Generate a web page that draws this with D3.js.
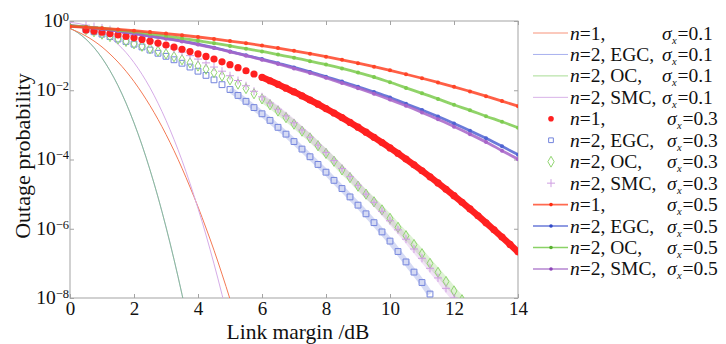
<!DOCTYPE html>
<html>
<head>
<meta charset="utf-8">
<script src="https://d3js.org/d3.v7.min.js"></script>
<style>
  body { margin: 0; background: #fff; }
  svg { display: block; font-family: "Liberation Serif", "Times New Roman", serif; }
</style>
</head>
<body>
<svg id="chart" width="726" height="344"></svg>
<script>
// ---- data ----
const xTicks = [0, 2, 4, 6, 8, 10, 12, 14];
const yTicks = [1, 1e-2, 1e-4, 1e-6, 1e-8];
const yTickExp = ['0', '\u22122', '\u22124', '\u22126', '\u22128'];

// link margin grids (dB)
const margin01 = [0, 0.25, 0.5, 0.75, 1, 1.25, 1.5, 1.75, 2, 2.25, 2.5, 2.75, 3, 3.25, 3.5, 3.75, 4, 4.25, 4.5, 4.75, 5, 5.25];
const margin03 = [0.5, 0.75, 1, 1.25, 1.5, 1.75, 2, 2.25, 2.5, 2.75, 3, 3.25, 3.5, 3.75, 4, 4.25, 4.5, 4.75,
  5, 5.25, 5.5, 5.75, 6, 6.25, 6.5, 6.75, 7, 7.25, 7.5, 7.75, 8, 8.25, 8.5, 8.75, 9, 9.25, 9.5, 9.75,
  10, 10.25, 10.5, 10.75, 11, 11.25, 11.5, 11.75, 12, 12.25, 12.5, 12.75, 13, 13.25, 13.5, 13.75, 14];
const margin05 = [0, 0.5, 1, 1.5, 2, 2.5, 3, 3.5, 4, 4.5, 5, 5.5, 6, 6.5, 7, 7.5, 8, 8.5, 9, 9.5,
  10, 10.5, 11, 11.5, 12, 12.5, 13, 13.5, 14];

// sigma_x = 0.1 (thin lines)
const n1S01 = [0.599, 0.482, 0.368, 0.264, 0.178, 0.111, 0.0652, 0.0355, 0.0179, 0.00833, 0.0036, 0.00144,
  5.3e-4, 1.8e-4, 5.6e-5, 1.6e-5, 4.3e-6, 1.05e-6, 2.4e-7, 4.9e-8, 9.3e-9, 1.6e-9];
const egcS01 = [0.622, 0.456, 0.298, 0.171, 0.0853, 0.0367, 0.0136, 0.00427, 0.00114, 2.6e-4, 5.0e-5, 8.2e-6,
  1.12e-6, 1.3e-7, 1.27e-8, 1.05e-9];
const ocS01 = [0.622, 0.456, 0.298, 0.171, 0.0853, 0.0367, 0.0136, 0.00427, 0.00114, 2.6e-4, 5.0e-5, 8.2e-6,
  1.12e-6, 1.3e-7, 1.27e-8, 1.05e-9];
const smcS01 = [0.921, 0.851, 0.750, 0.621, 0.476, 0.335, 0.213, 0.123, 0.063, 0.0289, 0.0118, 0.00424,
  0.00135, 3.8e-4, 9.4e-5, 2.04e-5, 3.9e-6, 6.6e-7, 9.7e-8, 1.26e-8, 1.43e-9];

// sigma_x = 0.3 (markers only)
const n1S03 = [0.551, 0.513, 0.4745, 0.436, 0.399, 0.362, 0.327, 0.293, 0.261, 0.231, 0.203, 0.177, 0.153,
  0.131, 0.112, 0.0948, 0.0796, 0.0663, 0.0548, 0.0449, 0.0366, 0.0295, 0.0236, 0.0188, 0.0148, 0.0115,
  0.00894, 0.00687, 0.00523, 0.00395, 0.00296, 0.0022, 0.00162, 0.00118, 8.56e-4, 6.15e-4, 4.37e-4,
  3.09e-4, 2.16e-4, 1.5e-4, 1.03e-4, 7.0e-5, 4.73e-5, 3.17e-5, 2.1e-5, 1.38e-5, 9.0e-6, 5.83e-6, 3.73e-6,
  2.37e-6, 1.49e-6, 9.3e-7, 5.75e-7, 3.53e-7, 2.15e-7];
const egcS03 = [0.562, 0.490, 0.417, 0.355, 0.302, 0.257, 0.214, 0.178, 0.145, 0.117, 0.0955, 0.0759, 0.0603,
  0.0468, 0.0355, 0.0269, 0.0200, 0.0145, 0.0105, 0.00708, 0.00479, 0.00316, 0.00209, 0.00135, 8.5e-4,
  5.4e-4, 3.3e-4, 2.0e-4, 1.2e-4, 7.2e-5, 4.3e-5, 2.5e-5, 1.45e-5, 8.3e-6, 4.8e-6, 2.7e-6, 1.5e-6, 8.1e-7,
  4.4e-7, 2.2e-7, 1.1e-7, 5.6e-8, 2.8e-8, 1.3e-8];
const ocS03 = [0.562, 0.490, 0.417, 0.355, 0.302, 0.257, 0.219, 0.186, 0.158, 0.135, 0.112, 0.0933, 0.0759,
  0.0617, 0.0501, 0.0407, 0.0324, 0.0257, 0.0200, 0.0151, 0.0112, 0.00794, 0.00562, 0.00380, 0.00251,
  0.00162, 0.00105, 6.6e-4, 4.2e-4, 2.5e-4, 1.5e-4, 8.9e-5, 5.0e-5, 3.0e-5, 1.7e-5, 1.0e-5, 6.0e-6,
  3.5e-6, 2.0e-6, 1.1e-6, 6.3e-7, 3.5e-7, 1.9e-7, 1.0e-7, 5.5e-8, 3.0e-8, 1.6e-8, 8.9e-9];
const smcS03 = [0.759, 0.692, 0.631, 0.562, 0.501, 0.437, 0.380, 0.324, 0.275, 0.229, 0.191, 0.155, 0.126,
  0.100, 0.0794, 0.0617, 0.0468, 0.0355, 0.0263, 0.0191, 0.0135, 0.00933, 0.00646, 0.00427, 0.00282,
  0.00182, 0.00115, 7.1e-4, 4.4e-4, 2.6e-4, 1.6e-4, 9.3e-5, 5.5e-5, 3.2e-5, 1.8e-5, 1.0e-5, 5.8e-6,
  3.2e-6, 1.7e-6, 9.3e-7, 5.0e-7, 2.6e-7, 1.4e-7, 7.2e-8, 3.8e-8, 1.9e-8, 1.0e-8];

// sigma_x = 0.5 (line + dots)
const n1S05 = [0.699, 0.657, 0.614, 0.570, 0.524, 0.478, 0.433, 0.388, 0.345, 0.303, 0.264, 0.228, 0.195,
  0.165, 0.138, 0.114, 0.0934, 0.0757, 0.0606, 0.048, 0.0375, 0.029, 0.0222, 0.0168, 0.0126, 0.00926,
  0.00676, 0.00487, 0.00347];
const egcS05 = [0.724, 0.661, 0.589, 0.513, 0.437, 0.363, 0.316, 0.263, 0.214, 0.170, 0.132, 0.102, 0.0794,
  0.0603, 0.0457, 0.0339, 0.0245, 0.0178, 0.0126, 0.00891, 0.00617, 0.00407, 0.00269, 0.00174, 0.00110,
  6.8e-4, 4.1e-4, 2.4e-4, 1.38e-4];
const ocS05 = [0.724, 0.676, 0.617, 0.550, 0.490, 0.427, 0.372, 0.316, 0.269, 0.229, 0.191, 0.158, 0.132,
  0.107, 0.0871, 0.0692, 0.0550, 0.0427, 0.0324, 0.0240, 0.0170, 0.0117, 0.00813, 0.00562, 0.00380,
  0.00263, 0.00178, 0.00123, 8.3e-4];
const smcS05 = [0.741, 0.661, 0.589, 0.513, 0.437, 0.363, 0.309, 0.257, 0.209, 0.166, 0.129, 0.100, 0.0759,
  0.0575, 0.0427, 0.0316, 0.0229, 0.0162, 0.0115, 0.00794, 0.00537, 0.00355, 0.00229, 0.00145, 8.9e-4,
  5.4e-4, 3.2e-4, 1.8e-4, 1.02e-4];

const legendPrefix = ['1,', '2, EGC,', '2, OC,', '2, SMC,'];
const legendSigma = ['0.1', '0.3', '0.5'];

// ---- layout ----
const plot = { left: 70, right: 518, top: 21, bottom: 298 };
const axisColor = '#a3a3a3';
const serif = 'Liberation Serif';

const svg = d3.select('#chart');

const x = d3.scaleLinear().domain([0, 14]).range([plot.left, plot.right]);
const y = d3.scaleLog().domain([1e-8, 1]).range([plot.bottom, plot.top]);

svg.append('defs').append('clipPath').attr('id', 'clip')
  .append('rect')
  .attr('x', plot.left).attr('y', plot.top)
  .attr('width', plot.right - plot.left).attr('height', plot.bottom - plot.top);

// axes
const gx = svg.append('g')
  .attr('transform', `translate(0,${plot.bottom})`)
  .call(d3.axisBottom(x).tickValues(xTicks).tickSize(-4).tickSizeOuter(0).tickPadding(4).tickFormat(d3.format('d')));
const gxTop = svg.append('g')
  .attr('transform', `translate(0,${plot.top})`)
  .call(d3.axisTop(x).tickValues(xTicks).tickSize(-4).tickSizeOuter(0).tickFormat(''));
const gy = svg.append('g')
  .attr('transform', `translate(${plot.left},0)`)
  .call(d3.axisLeft(y).tickValues(yTicks).tickSize(-4).tickSizeOuter(0).tickPadding(1));
const gyRight = svg.append('g')
  .attr('transform', `translate(${plot.right},0)`)
  .call(d3.axisRight(y).tickValues(yTicks).tickSize(-4).tickSizeOuter(0).tickFormat(''));

[gx, gxTop, gy, gyRight].forEach(g => {
  g.select('.domain').remove();
  g.selectAll('line').attr('stroke', axisColor);
  g.attr('font-family', serif).attr('font-size', 19.5);
  g.selectAll('text').attr('fill', '#111');
});
gx.attr('font-size', 19);

gy.selectAll('text')
  .attr('dy', '0.27em')
  .each(function (d, i) {
    const t = d3.select(this).text(null);
    t.append('tspan').text('10');
    t.append('tspan').attr('dy', -6).attr('font-size', 12.5).text(yTickExp[i]);
  });

svg.append('rect')
  .attr('x', plot.left).attr('y', plot.top)
  .attr('width', plot.right - plot.left).attr('height', plot.bottom - plot.top)
  .attr('fill', 'none').attr('stroke', axisColor).attr('stroke-width', 1);

// titles
svg.append('text')
  .attr('transform', 'translate(30,156) rotate(-90)')
  .attr('text-anchor', 'middle')
  .attr('font-size', 22).attr('fill', '#111')
  .text('Outage probability');
svg.append('text')
  .attr('x', 298).attr('y', 339)
  .attr('text-anchor', 'middle')
  .attr('font-size', 21.5).attr('fill', '#111')
  .text('Link margin /dB');

// ---- series ----
const plotArea = svg.append('g').attr('clip-path', 'url(#clip)');
const pts = (ms, vs) => vs.map((v, i) => ({ m: ms[i], p: v }));
const lineGen = d3.line().x(d => x(d.m)).y(d => y(d.p)).curve(d3.curveMonotoneX);

const plusPath = 'M-4,0H4M0,-4V4';
const squarePath = d3.symbol().type(d3.symbolSquare).size(34)();
const diamondPath = d3.symbol().type(d3.symbolDiamond).size(30)();

const s01 = [
  { vals: egcS01, color: '#7f8fdd', op: 0.8 },
  { vals: ocS01, color: '#84c866', op: 0.6 },
  { vals: n1S01, color: '#f47a55', op: 1 },
  { vals: smcS01, color: '#d6ace8', op: 1 }
];
s01.forEach(s => {
  plotArea.append('path')
    .datum(pts(margin01, s.vals))
    .attr('d', lineGen)
    .attr('fill', 'none')
    .attr('stroke', s.color)
    .attr('stroke-opacity', s.op)
    .attr('stroke-width', 1);
});

// where markers are packed so tightly that they merge into a band
function band(vals, from, color, width, op) {
  plotArea.append('path')
    .datum(pts(margin03, vals).filter(d => d.m >= from))
    .attr('d', lineGen)
    .attr('fill', 'none')
    .attr('stroke', color)
    .attr('stroke-opacity', op)
    .attr('stroke-width', width);
}
function markers(vals, path, stroke, fill, sw) {
  plotArea.append('g').selectAll('path')
    .data(pts(margin03, vals))
    .join('path')
    .attr('transform', d => `translate(${x(d.m)},${y(d.p)})`)
    .attr('d', path)
    .attr('fill', fill)
    .attr('stroke', stroke)
    .attr('stroke-width', sw);
}
band(egcS03, 5, '#7384dc', 6, 0.3);
band(ocS03, 6, '#92d572', 7, 0.3);
band(smcS03, 6, '#cf9fe2', 6, 0.3);
markers(egcS03, squarePath, '#7384dc', 'none', 1);
markers(ocS03, diamondPath, '#92d572', 'none', 1);
markers(smcS03, plusPath, '#cf9fe2', 'none', 1);
band(n1S03, 6, '#ff2020', 6.5, 1);
plotArea.append('g').selectAll('circle')
  .data(pts(margin03, n1S03))
  .join('circle')
  .attr('cx', d => x(d.m)).attr('cy', d => y(d.p))
  .attr('r', 3.6)
  .attr('fill', '#ff2020');

const s05 = [
  { vals: egcS05, color: '#4f63d2' },
  { vals: smcS05, color: '#a764c8' },
  { vals: ocS05, color: '#7dcb4f' },
  { vals: n1S05, color: '#ff4326' }
];
s05.forEach(s => {
  const data = pts(margin05, s.vals);
  plotArea.append('path')
    .datum(data)
    .attr('d', lineGen)
    .attr('fill', 'none')
    .attr('stroke', s.color)
    .attr('stroke-opacity', 0.85)
    .attr('stroke-width', 2.8);
  plotArea.append('g').selectAll('circle')
    .data(data)
    .join('circle')
    .attr('cx', d => x(d.m)).attr('cy', d => y(d.p))
    .attr('r', 2)
    .attr('fill', s.color);
});

// ---- legend ----
const lgColors = {
  line01: ['#f7937a', '#a7b0ee', '#a9dc94', '#d9b3e8'],
  mark03: ['#ff2020', '#7384dc', '#92d572', '#cf9fe2'],
  line05: ['#ff6a50', '#6a7ad8', '#8ad266', '#b584d0'],
  dot05: ['#ff2a10', '#3048c8', '#58b030', '#8c44b8']
};
const lg = svg.append('g');
const rowY0 = 33, rowStep = 21.45;
legendSigma.forEach((sig, gi) => {
  legendPrefix.forEach((pre, ri) => {
    const k = gi * 4 + ri;
    const yy = rowY0 + k * rowStep;
    const row = lg.append('g').attr('transform', `translate(0,${yy})`);
    if (gi === 0) {
      row.append('line').attr('x1', 533).attr('x2', 568).attr('y1', 0).attr('y2', 0)
        .attr('stroke', lgColors.line01[ri]).attr('stroke-width', 1);
    } else if (gi === 1) {
      const c = lgColors.mark03[ri];
      if (ri === 0) row.append('circle').attr('cx', 551).attr('r', 2.8).attr('fill', c);
      if (ri === 1) row.append('path').attr('transform', 'translate(551,0)').attr('d', d3.symbol().type(d3.symbolSquare).size(22)()).attr('fill', 'none').attr('stroke', c);
      if (ri === 2) row.append('path').attr('transform', 'translate(551,0)').attr('d', d3.symbol().type(d3.symbolDiamond).size(34)()).attr('fill', 'none').attr('stroke', c);
      if (ri === 3) row.append('path').attr('transform', 'translate(551,0)').attr('d', plusPath).attr('fill', 'none').attr('stroke', c);
    } else {
      row.append('line').attr('x1', 533).attr('x2', 568).attr('y1', 0).attr('y2', 0)
        .attr('stroke', lgColors.line05[ri]).attr('stroke-width', 1.6);
      row.append('circle').attr('cx', 551).attr('r', 1.8).attr('fill', lgColors.dot05[ri]);
    }
    const base = 6.5;
    const sx = gi === 0 ? 662 : 667;
    const t = row.append('text').attr('y', base).attr('font-size', 19.5).attr('fill', '#111');
    t.append('tspan').attr('x', 570).attr('font-style', 'italic').text('n');
    t.append('tspan').text('=' + pre);
    t.append('tspan').attr('x', sx).attr('font-style', 'italic').text('\u03c3');
    t.append('tspan').attr('x', sx + 10).attr('dy', 4).attr('font-size', 10.5).attr('font-style', 'italic').text('x');
    t.append('tspan').attr('x', sx + 15.5).attr('dy', -4).text('=' + sig);
  });
});
</script>
</body>
</html>
